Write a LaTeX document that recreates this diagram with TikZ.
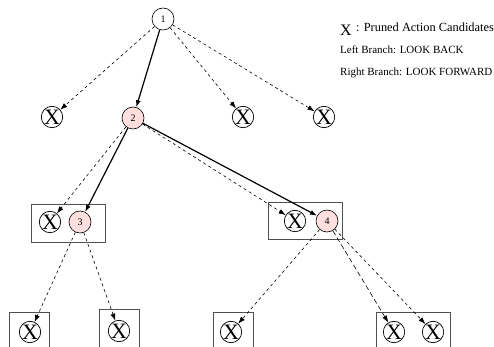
\documentclass[tikz,border=0pt]{standalone}
\usepackage{fontspec}
\setmainfont{Liberation Serif}
\usetikzlibrary{arrows.meta}
\definecolor{pinkfill}{RGB}{255,222,222}
\definecolor{boxgray}{RGB}{80,80,80}
\begin{document}
\begin{tikzpicture}[x=1pt,y=-1pt,
  xnode/.style={circle,draw,line width=0.7pt,minimum size=21pt,inner sep=0pt,font=\fontsize{22}{22}\selectfont},
  numnode/.style={circle,draw,line width=0.6pt,minimum size=22pt,inner sep=0pt,font=\fontsize{10}{10}\selectfont},
  pinknode/.style={numnode,fill=pinkfill},
  boxstyle/.style={draw=boxgray,line width=0.8pt},
  dashedge/.style={-{Latex[length=7pt,width=5pt]},dash pattern=on 3pt off 3pt,line width=0.6pt},
  longdashedge/.style={-{Latex[length=7pt,width=5pt]},dash pattern=on 5pt off 3pt,line width=0.6pt},
  solidedge/.style={-{Latex[length=7pt,width=5pt]},line width=1.2pt},
  legend/.style={anchor=west,inner sep=0pt}
]
\useasboundingbox (0,0) rectangle (494,347);
% boxes
\draw[boxstyle] (31,204) rectangle (105,242);
\draw[boxstyle] (268,202) rectangle (342,239);
\draw[boxstyle] (9,312) rectangle (49,352);
\draw[boxstyle] (99,309) rectangle (139,352);
\draw[boxstyle] (213,312) rectangle (253,352);
\draw[boxstyle] (376,312) rectangle (450,352);
% nodes
\node[numnode] (n1) at (163,19) {1};
\node[xnode] (x1) at (52,117) {X};
\node[pinknode] (n2) at (133,118) {2};
\node[xnode] (x2) at (243,117) {X};
\node[xnode] (x3) at (324,117) {X};
\node[xnode] (xa) at (50,222) {X};
\node[pinknode] (n3) at (80,222) {3};
\node[xnode] (xb) at (295,221) {X};
\node[pinknode] (n4) at (327,221) {4};
\node[xnode] (ya) at (30,332) {X};
\node[xnode] (yb) at (119,331) {X};
\node[xnode] (yc) at (231,332) {X};
\node[xnode] (yd) at (394,332) {X};
\node[xnode] (ye) at (433,332) {X};
% edges
\draw[dashedge] (n1) -- (x1);
\draw[solidedge] (n1) -- (n2);
\draw[dashedge] (n1) -- (x2);
\draw[dashedge] (n1) -- (x3);
\draw[dashedge] (n2) -- (xa);
\draw[solidedge] (n2) -- (n3);
\draw[dashedge] (n2) -- (xb);
\draw[solidedge] (n2) -- (n4);
\draw[dashedge] (n3) -- (ya);
\draw[dashedge] (n3) -- (yb);
\draw[dashedge] (n4) -- (yc);
\draw[longdashedge] (n4) -- (yd);
\draw[dashedge] (n4) -- (ye);
% legend
\node[legend,font=\fontsize{16}{16}\selectfont] (lx) at (340,30) {X};
\node[legend,font=\fontsize{12.4}{12.4}\selectfont] (l1) at (356,27) {: Pruned Action Candidates};
\node[legend,font=\fontsize{11}{11}\selectfont] (l2) at (340,50) {Left Branch: LOOK BACK};
\node[legend,font=\fontsize{11}{11}\selectfont] (l3) at (340,73) {Right Branch: LOOK FORWARD};
\end{tikzpicture}
\end{document}
